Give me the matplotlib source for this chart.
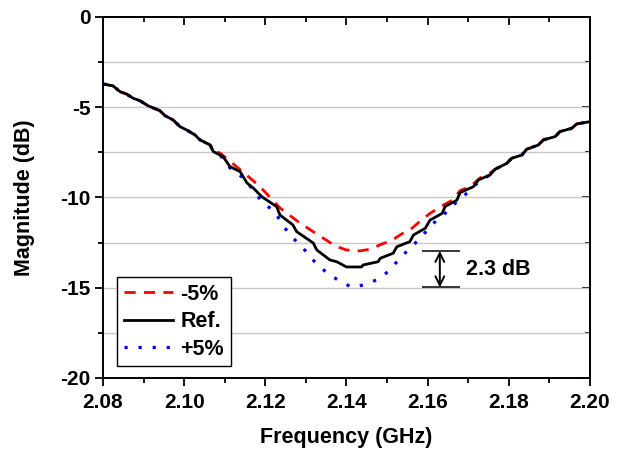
import numpy as np
import matplotlib
matplotlib.use("Agg")
import matplotlib.pyplot as plt
from matplotlib.ticker import MultipleLocator

plt.rcParams['font.family'] = ['Liberation Sans', 'DejaVu Sans']
plt.rcParams['font.weight'] = 'bold'

# shared tails (the three curves overlap there)
left_f = [2.0800, 2.0825, 2.0842, 2.0858, 2.0874, 2.0891, 2.0912, 2.0940, 2.0953,
          2.0973, 2.0990, 2.1006, 2.1027, 2.1039, 2.1064, 2.1072]
left_db = [-3.71, -3.82, -4.14, -4.27, -4.50, -4.64, -4.93, -5.19, -5.47,
           -5.71, -6.08, -6.26, -6.54, -6.81, -7.09, -7.46]
right_f = [2.1766, 2.1795, 2.1807, 2.1832, 2.1844, 2.1873, 2.1885, 2.1914, 2.1926,
           2.1955, 2.1967, 2.2000]
right_db = [-8.44, -8.11, -7.83, -7.65, -7.33, -7.09, -6.81, -6.63, -6.35,
            -6.17, -5.93, -5.80]

# Ref. middle part
ref_mid_f = [2.1096, 2.1113, 2.1138, 2.1155, 2.1170, 2.1192, 2.1228, 2.1236, 2.1268,
             2.1277, 2.1318, 2.1327, 2.1359, 2.1376, 2.1400, 2.1437, 2.1441, 2.1478,
             2.1483, 2.1515, 2.1524, 2.1556, 2.1565, 2.1594, 2.1606, 2.1636, 2.1643,
             2.1672, 2.1680, 2.1713, 2.1725, 2.1754]
ref_mid_db = [-7.74, -8.29, -8.57, -9.20, -9.47, -9.97, -10.51, -10.97, -11.52,
              -11.89, -12.52, -12.91, -13.46, -13.56, -13.85, -13.85, -13.74, -13.56,
              -13.37, -13.09, -12.73, -12.45, -12.08, -11.71, -11.25, -10.88, -10.50,
              -10.15, -9.73, -9.40, -9.03, -8.75]

# -5% middle part
red_mid_f = [2.1088, 2.1145, 2.1187, 2.1236, 2.1285, 2.1342, 2.1376, 2.1400, 2.1433,
             2.1458, 2.1487, 2.1511, 2.1536, 2.1561, 2.1585, 2.1606, 2.1639, 2.1662,
             2.1680, 2.1705, 2.1729, 2.1754]
red_mid_db = [-7.53, -8.59, -9.40, -10.58, -11.41, -12.25, -12.72, -12.91, -12.96,
              -12.87, -12.58, -12.39, -12.02, -11.71, -11.25, -10.88, -10.42, -10.14,
              -9.62, -9.40, -8.92, -8.64]

# +5% middle part
blue_mid_f = [2.1096, 2.1113, 2.1145, 2.1170, 2.1192, 2.1224, 2.1244, 2.1268, 2.1293,
              2.1322, 2.1352, 2.1379, 2.1413, 2.1441, 2.1474, 2.1503, 2.1528, 2.1556,
              2.1585, 2.1606, 2.1639, 2.1663, 2.1692, 2.1717, 2.1749]
blue_mid_db = [-7.80, -8.37, -8.90, -9.58, -10.25, -10.80, -11.58, -12.24, -12.80,
               -13.57, -14.18, -14.57, -14.98, -14.85, -14.57, -14.11, -13.46, -12.81,
               -12.20, -11.58, -10.97, -10.42, -9.86, -9.31, -8.81]

labels = ['-5%', 'Ref.', '+5%']
delta_text = '2.3 dB'

ref_f = left_f + ref_mid_f + right_f
ref_db = left_db + ref_mid_db + right_db
red_f = left_f + red_mid_f + right_f
red_db = left_db + red_mid_db + right_db
blue_f = left_f + blue_mid_f + right_f
blue_db = left_db + blue_mid_db + right_db

fig = plt.figure(figsize=(6.24, 4.53), dpi=100)
ax = fig.add_axes([0.165, 0.1656, 0.7805, 0.797])

ax.plot(red_f, red_db, color='#ff0000', lw=2, linestyle=(0, (4, 3)), label=labels[0], zorder=3)
ax.plot(ref_f, ref_db, color='black', lw=2, label=labels[1], zorder=4)
ax.plot(blue_f, blue_db, color='#0000ff', lw=2.3, linestyle=(0, (1, 3.4)), label=labels[2], zorder=3)

ax.set_xlim(2.08, 2.20)
ax.set_ylim(-20, 0)
ax.xaxis.set_major_locator(MultipleLocator(0.02))
ax.xaxis.set_minor_locator(MultipleLocator(0.01))
ax.yaxis.set_major_locator(MultipleLocator(5))
ax.yaxis.set_minor_locator(MultipleLocator(2.5))
ax.xaxis.set_major_formatter(plt.FormatStrFormatter('%.2f'))
ax.yaxis.set_major_formatter(plt.FormatStrFormatter('%d'))
ax.yaxis.grid(True, which='both', color='#c8c8c8', lw=1)
ax.set_axisbelow(True)

for s in ax.spines.values():
    s.set_linewidth(1.4)
ax.tick_params(which='major', direction='out', length=6, width=1.3, labelsize=15, pad=3)
ax.tick_params(which='minor', direction='out', length=3.5, width=1.3)
ax.tick_params(axis='x', which='major', pad=5)

top = ax.secondary_xaxis('top')
top.xaxis.set_major_locator(MultipleLocator(0.02))
top.xaxis.set_minor_locator(MultipleLocator(0.01))
top.tick_params(which='major', direction='in', length=6, width=1.3, labeltop=False)
top.tick_params(which='minor', direction='in', length=3.5, width=1.3)
right = ax.secondary_yaxis('right')
right.yaxis.set_major_locator(MultipleLocator(5))
right.yaxis.set_minor_locator(MultipleLocator(2.5))
right.tick_params(which='major', direction='in', length=6, width=1.3, labelright=False)
right.tick_params(which='minor', direction='in', length=3.5, width=1.3)
for sec in (top, right):
    for s in sec.spines.values():
        s.set_linewidth(1.4)

ax.set_xlabel('Frequency (GHz)', fontsize=15.5, fontweight='bold')
ax.set_ylabel('Magnitude (dB)', fontsize=15.5, fontweight='bold')
ax.xaxis.set_label_coords(0.4986, -0.135)
ax.yaxis.set_label_coords(-0.14, 0.5)

leg = ax.legend(loc='lower left', bbox_to_anchor=(0.029, 0.033), borderaxespad=0,
                fancybox=False, edgecolor='black', framealpha=1, fontsize=15.5,
                handlelength=2.3, handletextpad=0.35, borderpad=0.3, labelspacing=0.3)
leg.get_frame().set_linewidth(1.0)

# bracket marking the difference between -5% and +5% minima
top_y = min(red_db)
bot_y = min(blue_db)
ax.hlines([top_y, bot_y], 2.1585, 2.168, color='black', lw=1.1)
ax.annotate('', xy=(2.163, bot_y), xytext=(2.163, top_y),
            arrowprops=dict(arrowstyle='<->', color='black', lw=1.4, mutation_scale=16,
                            shrinkA=0, shrinkB=0))
ax.text(2.1694, (top_y + bot_y) / 2, delta_text, fontsize=15.5, fontweight='bold',
        va='center', ha='left')

fig.savefig('out.png', dpi=100)
